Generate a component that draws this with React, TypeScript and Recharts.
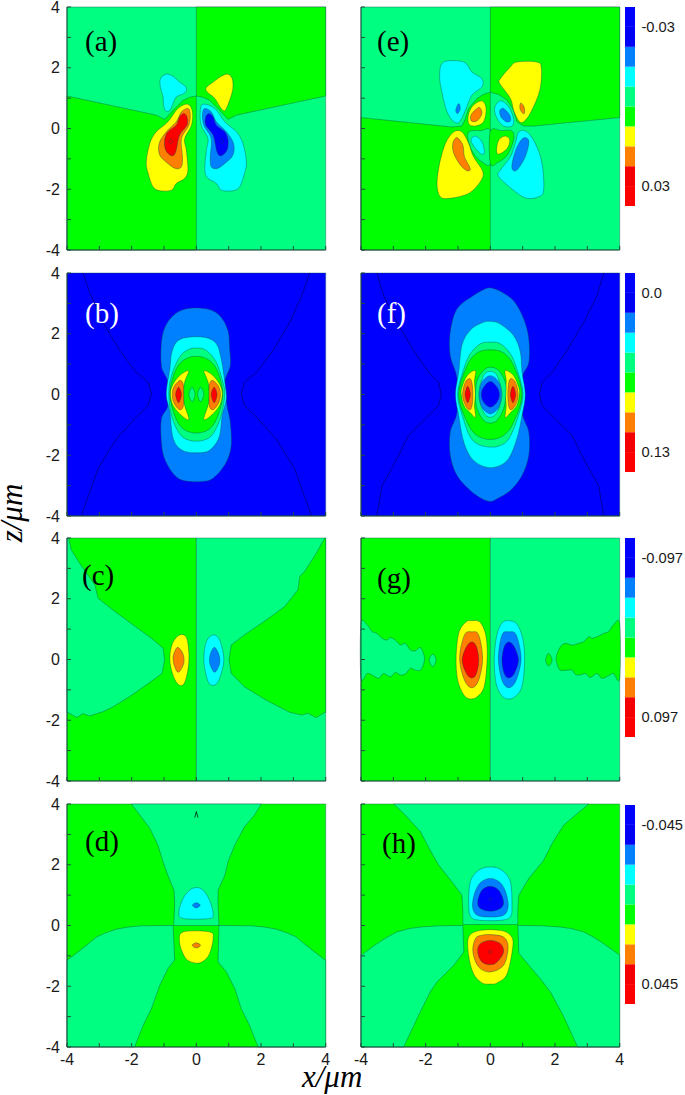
import { ScatterChart, Scatter, XAxis, YAxis, BarChart, Bar } from 'recharts';

type Pts = number[][];
type Contour = [number, Pts];

// level colours, 0 = most negative
const LEVEL_COLORS = ['#0000ff', '#0080ff', '#00ffff', '#00ff80', '#00ff00', '#ffff00', '#ff8000', '#ff0000'];

const TICKS = [-4, -3, -2, -1, 0, 1, 2, 3, 4];
const FULL: Pts = [[-4, 4], [4, 4], [4, -4], [-4, -4]];
const LEFT_HALF: Pts = [[-4, 4], [0, 4], [0, -4], [-4, -4]];
const RIGHT_HALF: Pts = [[0, 4], [4, 4], [4, -4], [0, -4]];

// (a)
const aRegions: Contour[] = [
  [3, FULL],
  [4, [[0, 4], [4, 4], [4, 1.07], [1.24, 0.44], [0.98, 0.3], [0.72, 0.6], [0.41, 0.93], [0.2, 1.03], [0, 1.07]]],
  [4, [[-4, 1.07], [-1.24, 0.44], [-0.98, 0.3], [-0.72, 0.6], [-0.41, 0.93], [-0.2, 1.03], [0, 1.07], [0, -4], [-4, -4]]],
];
const aBlobs: Contour[] = [
  [2, [[-0.93, 1.79], [-0.72, 1.72], [-0.52, 1.53], [-0.31, 1.35], [-0.36, 1.17], [-0.62, 1.04], [-0.72, 0.82], [-0.82, 0.6], [-0.93, 0.57], [-1.01, 0.73], [-1.03, 1.04], [-1.11, 1.35], [-1.11, 1.64]]],
  [5, [[0.98, 1.79], [1.11, 1.64], [1.13, 1.32], [1.05, 0.99], [0.93, 0.66], [0.85, 0.58], [0.72, 0.73], [0.57, 0.99], [0.33, 1.21], [0.31, 1.35], [0.52, 1.53], [0.77, 1.72]]],
  [5, [[-0.26, 0.8], [-0.12, 0.55], [-0.15, 0.11], [-0.36, -0.33], [-0.31, -0.71], [-0.26, -1.37], [-0.36, -1.64], [-0.62, -1.81], [-0.77, -2.03], [-1.13, -2.05], [-1.34, -1.92], [-1.49, -1.48], [-1.55, -1.1], [-1.44, -0.49], [-1.24, -0.11], [-0.88, 0.22], [-0.57, 0.66]]],
  [6, [[-0.26, 0.66], [-0.19, 0.49], [-0.23, 0.11], [-0.46, -0.33], [-0.43, -0.93], [-0.46, -1.26], [-0.64, -1.32], [-0.88, -1.15], [-1.13, -0.88], [-1.15, -0.49], [-0.93, -0.11], [-0.62, 0.22], [-0.46, 0.55]]],
  [7, [[-0.39, 0.49], [-0.29, 0.38], [-0.29, 0.11], [-0.52, -0.22], [-0.64, -0.77], [-0.77, -0.9], [-0.95, -0.71], [-0.98, -0.38], [-0.88, -0.11], [-0.62, 0.11], [-0.52, 0.38]]],
  [7, [[-0.79, -0.35], [-0.73, -0.42], [-0.79, -0.5], [-0.85, -0.42]]],
  [2, [[0.2, 0.8], [0.12, 0.55], [0.15, 0.11], [0.36, -0.33], [0.31, -0.71], [0.26, -1.37], [0.36, -1.64], [0.62, -1.81], [0.77, -2.03], [1.13, -2.05], [1.34, -1.92], [1.49, -1.48], [1.55, -1.1], [1.44, -0.49], [1.24, -0.11], [0.88, 0.22], [0.57, 0.66]]],
  [1, [[0.26, 0.66], [0.19, 0.49], [0.23, 0.11], [0.46, -0.33], [0.43, -0.93], [0.46, -1.26], [0.64, -1.32], [0.88, -1.15], [1.13, -0.88], [1.15, -0.49], [0.93, -0.11], [0.62, 0.22], [0.46, 0.55]]],
  [0, [[0.39, 0.49], [0.29, 0.38], [0.29, 0.11], [0.52, -0.22], [0.64, -0.77], [0.77, -0.9], [0.95, -0.71], [0.98, -0.38], [0.88, -0.11], [0.62, 0.11], [0.52, 0.38]]],
  [0, [[0.79, -0.35], [0.85, -0.42], [0.79, -0.5], [0.73, -0.42]]],
];

// (e)
const eRegions: Contour[] = [
  [3, FULL],
  [4, [[0, 4], [4, 4], [4, 0.36], [1.34, 0.08], [1.03, 0.08], [0.82, 0.22], [0.72, 0.6], [0.52, 0.93], [0.26, 1.12], [0, 1.19]]],
  [4, [[-4, 0.36], [-1.2, 0.05], [-0.88, 0.08], [-0.78, 0.3], [-0.67, 0.66], [-0.42, 0.98], [-0.2, 1.13], [0, 1.19], [0, -4], [-4, -4]]],
];
const eBlobs: Contour[] = [
  [3, [[-0.67, -0.11], [-0.3, -0.07], [0, -0.09], [0, -1.15], [-0.26, -1.1], [-0.52, -0.82], [-0.67, -0.44]]],
  [4, [[0, -0.09], [0.35, -0.07], [0.67, -0.08], [0.72, -0.38], [0.52, -0.88], [0.21, -1.13], [0, -1.15]]],
  [2, [[-1.44, 2.19], [-0.82, 2.19], [-0.57, 1.86], [-0.26, 1.64], [-0.26, 1.37], [-0.57, 1.1], [-0.77, 0.6], [-0.95, 0.22], [-1.13, 0.22], [-1.34, 0.55], [-1.49, 1.15], [-1.57, 1.75]]],
  [1, [[-0.98, 0.82], [-0.93, 0.66], [-1.01, 0.49], [-1.07, 0.6]]],
  [5, [[1.44, 2.19], [1.58, 1.97], [1.53, 1.26], [1.26, 0.55], [1.03, 0.22], [0.88, 0.25], [0.72, 0.6], [0.62, 0.99], [0.29, 1.48], [0.31, 1.64], [0.62, 2.03], [0.82, 2.19]]],
  [6, [[0.95, 0.84], [1.05, 0.69], [1.05, 0.49], [0.96, 0.55], [0.91, 0.71]]],
  [5, [[-0.26, 0.91], [-0.13, 0.66], [-0.21, 0.22], [-0.46, 0.08], [-0.67, 0.16], [-0.67, 0.49], [-0.52, 0.77]]],
  [6, [[-0.33, 0.69], [-0.26, 0.49], [-0.41, 0.25], [-0.59, 0.25], [-0.6, 0.44], [-0.46, 0.62]]],
  [2, [[0.31, 0.91], [0.57, 0.71], [0.72, 0.31], [0.67, 0.08], [0.41, 0.08], [0.21, 0.33], [0.13, 0.66]]],
  [1, [[0.41, 0.66], [0.6, 0.44], [0.62, 0.25], [0.49, 0.22], [0.33, 0.38], [0.29, 0.58]]],
  [2, [[-0.46, -0.25], [-0.26, -0.44], [-0.18, -0.77], [-0.26, -0.85], [-0.46, -0.66], [-0.6, -0.38]]],
  [5, [[0.46, -0.25], [0.6, -0.38], [0.52, -0.66], [0.26, -0.85], [0.19, -0.71], [0.26, -0.38]]],
  [5, [[-1.13, -0.11], [-0.88, -0.11], [-0.67, -0.49], [-0.52, -0.93], [-0.23, -1.42], [-0.31, -1.75], [-0.67, -2.14], [-1.24, -2.3], [-1.55, -2.25], [-1.65, -1.81], [-1.57, -1.15], [-1.39, -0.49]]],
  [6, [[-1.03, -0.3], [-0.85, -0.55], [-0.8, -0.93], [-0.62, -1.32], [-0.72, -1.39], [-0.93, -1.2], [-1.13, -0.82], [-1.16, -0.49]]],
  [2, [[0.88, -0.11], [1.13, -0.11], [1.39, -0.49], [1.6, -1.15], [1.65, -2.03], [1.49, -2.25], [1.13, -2.3], [0.77, -2.08], [0.26, -1.59], [0.31, -1.37], [0.62, -0.93], [0.77, -0.49]]],
  [1, [[1.06, -0.3], [1.19, -0.44], [1.08, -0.93], [0.82, -1.37], [0.67, -1.32], [0.72, -0.93], [0.88, -0.49]]],
];

// (b)
const bRegions: Contour[] = [[0, FULL]];
const bLines: Pts[] = [
  [[-3.5, 4], [-3.3, 3.36], [-2.89, 2.38], [-2.37, 1.45], [-1.86, 0.73], [-1.49, 0.41], [-1.39, 0.02], [-1.49, -0.36], [-1.91, -0.8], [-2.47, -1.46], [-3.04, -2.44], [-3.56, -4]],
  [[3.5, 4], [3.3, 3.36], [2.89, 2.38], [2.37, 1.45], [1.86, 0.73], [1.49, 0.41], [1.39, 0.02], [1.49, -0.36], [1.91, -0.8], [2.47, -1.46], [3.04, -2.44], [3.56, -4]],
];
const bBlobs: Contour[] = [
  [1, [[-0.31, 2.82], [0.31, 2.82], [0.72, 2.6], [0.98, 2.1], [1.03, 1.5], [1.05, 0.95], [0.88, 0.41], [0.95, -0.36], [1.05, -0.91], [1.08, -1.68], [0.93, -2.22], [0.62, -2.66], [0.31, -2.85], [-0.31, -2.85], [-0.67, -2.66], [-0.98, -2.12], [-1.08, -1.57], [-1.08, -0.8], [-0.88, -0.36], [-0.88, 0.41], [-1.08, 0.95], [-1.05, 1.94], [-0.77, 2.54]]],
  [2, [[-0.31, 1.88], [0.28, 1.88], [0.62, 1.67], [0.77, 1.17], [0.88, 0.41], [0.93, -0.14], [0.8, -0.69], [0.72, -1.35], [0.52, -1.73], [0.26, -1.9], [-0.26, -1.9], [-0.57, -1.73], [-0.74, -1.35], [-0.82, -0.58], [-0.93, 0.02], [-0.82, 0.84], [-0.77, 1.33], [-0.62, 1.72]]],
  [3, [[0, 1.53], [0.31, 1.45], [0.62, 1.06], [0.82, 0.41], [0.88, 0.02], [0.77, -0.69], [0.52, -1.29], [0.21, -1.51], [-0.21, -1.51], [-0.52, -1.29], [-0.77, -0.69], [-0.85, 0.02], [-0.77, 0.62], [-0.52, 1.23], [-0.26, 1.47]]],
  [4, [[0, 1.26], [0.41, 1.12], [0.67, 0.73], [0.82, 0.02], [0.67, -0.69], [0.41, -1.13], [0, -1.27], [-0.41, -1.13], [-0.67, -0.69], [-0.82, 0.02], [-0.67, 0.73], [-0.41, 1.12]]],
  [5, [[0.24, 0.78], [0.52, 0.62], [0.74, 0.3], [0.8, 0], [0.72, -0.36], [0.46, -0.69], [0.23, -0.82], [0.36, -0.36], [0.41, 0], [0.36, 0.41]]],
  [5, [[-0.24, 0.78], [-0.52, 0.62], [-0.74, 0.3], [-0.8, 0], [-0.72, -0.36], [-0.46, -0.69], [-0.23, -0.82], [-0.36, -0.36], [-0.41, 0], [-0.36, 0.41]]],
  [6, [[0.52, 0.46], [0.72, 0.19], [0.72, -0.2], [0.54, -0.49], [0.41, -0.41], [0.39, 0], [0.41, 0.35]]],
  [6, [[-0.52, 0.46], [-0.72, 0.19], [-0.72, -0.2], [-0.54, -0.49], [-0.41, -0.41], [-0.39, 0], [-0.41, 0.35]]],
  [7, [[0.55, 0.24], [0.64, 0], [0.55, -0.27], [0.46, 0]]],
  [7, [[-0.55, 0.24], [-0.46, 0], [-0.55, -0.27], [-0.64, 0]]],
  [3, [[-0.13, 0.24], [-0.04, 0], [-0.13, -0.24], [-0.23, 0]]],
  [3, [[0.13, 0.24], [0.23, 0], [0.13, -0.24], [0.04, 0]]],
];

// (f)
const fRegions: Contour[] = [[0, FULL]];
const fLines: Pts[] = [
  [[-3.51, 4], [-3.3, 3.25], [-2.89, 2.38], [-2.37, 1.45], [-1.91, 0.73], [-1.6, 0.41], [-1.52, 0], [-1.6, -0.36], [-2.01, -0.8], [-2.53, -1.35], [-2.94, -2.23], [-3.35, -3], [-3.51, -4]],
  [[3.51, 4], [3.3, 3.25], [2.89, 2.38], [2.37, 1.45], [1.91, 0.73], [1.6, 0.41], [1.52, 0], [1.6, -0.36], [2.01, -0.8], [2.53, -1.35], [2.94, -2.23], [3.35, -3], [3.51, -4]],
];
const fBlobs: Contour[] = [
  [1, [[0, 3.51], [0.26, 3.42], [0.72, 3.09], [1.03, 2.49], [1.19, 1.83], [1.19, 1.06], [0.98, 0.52], [0.98, -0.58], [1.19, -1.24], [1.19, -2], [0.98, -2.67], [0.62, -3.16], [0.21, -3.43], [0, -3.52], [-0.26, -3.43], [-0.62, -3.16], [-1.03, -2.67], [-1.24, -2], [-1.24, -1.24], [-1.03, -0.58], [-1.03, 0.52], [-1.24, 1.28], [-1.24, 2.05], [-1.03, 2.82], [-0.52, 3.26], [-0.21, 3.45]]],
  [2, [[0, 2.41], [0.31, 2.32], [0.72, 1.94], [0.93, 1.39], [0.98, 0.73], [1.08, 0], [0.98, -0.69], [0.82, -1.46], [0.52, -2.17], [0, -2.41], [-0.52, -2.17], [-0.82, -1.57], [-0.98, -0.69], [-1.08, 0], [-0.98, 0.73], [-0.88, 1.62], [-0.62, 2.12], [-0.26, 2.36]]],
  [3, [[0, 1.72], [0.31, 1.67], [0.62, 1.34], [0.82, 0.84], [1.01, 0], [0.82, -0.85], [0.57, -1.46], [0.31, -1.68], [0, -1.73], [-0.36, -1.65], [-0.62, -1.4], [-0.82, -0.85], [-1.01, 0], [-0.82, 0.84], [-0.62, 1.34], [-0.31, 1.67]]],
  [4, [[0, 1.47], [0.41, 1.37], [0.72, 0.95], [0.98, 0], [0.72, -0.91], [0.41, -1.35], [0, -1.48], [-0.41, -1.35], [-0.72, -0.91], [-0.98, 0], [-0.72, 0.95], [-0.41, 1.37]]],
  [5, [[0.46, 0.79], [0.72, 0.62], [0.88, 0.23], [0.9, 0], [0.82, -0.36], [0.62, -0.6], [0.46, -0.75], [0.49, -0.36], [0.46, 0], [0.49, 0.43]]],
  [5, [[-0.46, 0.79], [-0.72, 0.62], [-0.88, 0.23], [-0.9, 0], [-0.82, -0.36], [-0.62, -0.6], [-0.46, -0.75], [-0.49, -0.36], [-0.46, 0], [-0.49, 0.43]]],
  [6, [[0.62, 0.52], [0.77, 0.41], [0.86, 0], [0.77, -0.36], [0.62, -0.5], [0.55, -0.25], [0.55, 0.24]]],
  [6, [[-0.62, 0.52], [-0.77, 0.41], [-0.86, 0], [-0.77, -0.36], [-0.62, -0.5], [-0.55, -0.25], [-0.55, 0.24]]],
  [7, [[0.7, 0.27], [0.78, 0], [0.7, -0.27], [0.62, 0]]],
  [7, [[-0.7, 0.27], [-0.62, 0], [-0.7, -0.27], [-0.78, 0]]],
  [3, [[0, 0.9], [0.26, 0.79], [0.46, 0.41], [0.48, 0], [0.41, -0.47], [0.21, -0.85], [0, -0.94], [-0.21, -0.85], [-0.41, -0.47], [-0.46, 0], [-0.41, 0.46], [-0.21, 0.79]]],
  [2, [[0, 0.76], [0.21, 0.62], [0.36, 0], [0.21, -0.58], [0, -0.75], [-0.21, -0.58], [-0.36, 0], [-0.21, 0.62]]],
  [1, [[0, 0.62], [0.26, 0.41], [0.34, 0], [0.26, -0.42], [0, -0.64], [-0.26, -0.42], [-0.34, 0], [-0.26, 0.41]]],
  [0, [[0, 0.43], [0.21, 0.24], [0.28, 0], [0.21, -0.25], [0, -0.42], [-0.21, -0.25], [-0.28, 0], [-0.21, 0.24]]],
];

// (c)
const cRegions: Contour[] = [
  [4, LEFT_HALF],
  [3, RIGHT_HALF],
  [3, [[-3.95, 4], [-3.87, 3.61], [-3.61, 3.17], [-3.14, 2.46], [-3.04, 2.02], [-2.58, 1.63], [-1.96, 1.14], [-1.39, 0.7], [-1.03, 0.37], [-0.98, 0], [-1.06, -0.46], [-1.55, -0.84], [-2.06, -1.22], [-2.58, -1.56], [-2.89, -1.72], [-3.3, -1.86], [-3.51, -1.78], [-3.69, -1.91], [-3.97, -1.75], [-4, -1.75], [-4, 4]]],
  [4, [[3.97, 4], [3.71, 3.5], [3.35, 2.9], [3.2, 2.74], [3.14, 2.29], [2.94, 2.02], [2.73, 1.74], [2.16, 1.3], [1.49, 0.81], [1.08, 0.48], [1.01, 0], [1.08, -0.46], [1.49, -0.9], [2.16, -1.34], [2.89, -1.74], [3.25, -1.83], [3.45, -1.77], [3.71, -1.92], [3.97, -1.74], [4, -1.74], [4, 4]]],
];
const cBlobs: Contour[] = [
  [5, [[-0.52, 0.81], [-0.31, 0.73], [-0.23, 0.2], [-0.26, -0.35], [-0.39, -0.81], [-0.57, -0.81], [-0.74, -0.46], [-0.82, 0.04], [-0.74, 0.53]]],
  [6, [[-0.57, 0.4], [-0.41, 0.18], [-0.39, -0.13], [-0.55, -0.42], [-0.67, -0.24], [-0.72, 0.04], [-0.67, 0.26]]],
  [2, [[0.52, 0.81], [0.72, 0.64], [0.85, 0.04], [0.77, -0.46], [0.62, -0.81], [0.41, -0.81], [0.29, -0.46], [0.23, 0.04], [0.31, 0.59]]],
  [1, [[0.57, 0.4], [0.7, 0.15], [0.72, -0.13], [0.57, -0.42], [0.43, -0.18], [0.41, 0.04], [0.46, 0.26]]],
];

// (g)
const gRegions: Contour[] = [
  [4, LEFT_HALF],
  [3, RIGHT_HALF],
];
const gBlobs: Contour[] = [
  [3, [[-4, 1.16], [-3.81, 1.14], [-3.66, 0.92], [-3.51, 0.86], [-3.35, 0.7], [-3.2, 0.64], [-3.09, 0.72], [-2.94, 0.64], [-2.78, 0.48], [-2.63, 0.53], [-2.47, 0.31], [-2.32, 0.29], [-2.16, 0.39], [-2.04, 0.09], [-2.06, -0.13], [-2.16, -0.35], [-2.32, -0.35], [-2.47, -0.29], [-2.63, -0.48], [-2.78, -0.51], [-2.94, -0.43], [-3.09, -0.57], [-3.3, -0.46], [-3.45, -0.62], [-3.66, -0.51], [-3.81, -0.46], [-4, -0.6]]],
  [3, [[-1.78, 0.18], [-1.68, -0.02], [-1.78, -0.24], [-1.89, -0.02]]],
  [4, [[4, 1.16], [3.81, 1.14], [3.66, 0.92], [3.51, 0.86], [3.3, 0.75], [3.14, 0.7], [3.04, 0.75], [2.89, 0.59], [2.73, 0.53], [2.53, 0.47], [2.32, 0.53], [2.16, 0.41], [2.04, 0.09], [2.06, -0.13], [2.16, -0.35], [2.37, -0.35], [2.53, -0.35], [2.63, -0.49], [2.78, -0.51], [2.94, -0.46], [3.09, -0.59], [3.3, -0.46], [3.45, -0.62], [3.66, -0.53], [3.81, -0.46], [4, -0.62]]],
  [4, [[1.8, 0.2], [1.91, -0.02], [1.8, -0.21], [1.71, -0.02]]],
  [5, [[-0.57, 1.28], [-0.31, 1.22], [-0.13, 0.75], [-0.1, -0.02], [-0.19, -0.9], [-0.41, -1.23], [-0.62, -1.3], [-0.82, -1.17], [-1.01, -0.68], [-1.06, 0.04], [-0.98, 0.86], [-0.77, 1.22]]],
  [6, [[-0.57, 0.91], [-0.36, 0.81], [-0.24, 0.04], [-0.36, -0.68], [-0.57, -0.93], [-0.8, -0.68], [-0.95, 0.04], [-0.8, 0.81]]],
  [7, [[-0.57, 0.58], [-0.43, 0.42], [-0.36, -0.02], [-0.43, -0.46], [-0.57, -0.61], [-0.74, -0.46], [-0.87, -0.02], [-0.74, 0.42]]],
  [2, [[0.57, 1.28], [0.82, 1.17], [1, 0.7], [1.06, -0.02], [0.98, -0.88], [0.77, -1.22], [0.57, -1.3], [0.36, -1.2], [0.18, -0.8], [0.12, -0.02], [0.2, 0.8], [0.36, 1.2]]],
  [1, [[0.57, 0.91], [0.8, 0.81], [0.95, 0.04], [0.8, -0.68], [0.57, -0.93], [0.36, -0.68], [0.25, 0.04], [0.36, 0.81]]],
  [0, [[0.57, 0.58], [0.74, 0.42], [0.87, -0.02], [0.74, -0.46], [0.57, -0.61], [0.43, -0.46], [0.36, -0.02], [0.43, 0.42]]],
];

// (d)
const dRegions: Contour[] = [
  [4, FULL],
  [3, [[-2.01, 4], [-1.75, 3.64], [-1.44, 3.2], [-1.19, 2.65], [-1.03, 2.1], [-0.88, 1.65], [-0.69, 1.16], [-0.67, 0.67], [-0.7, 0], [0.7, 0], [0.67, 0.67], [0.67, 1.16], [0.88, 1.65], [0.98, 2.1], [1.19, 2.65], [1.49, 3.25], [1.8, 3.64], [2.01, 4]]],
  [3, [[-4, -1.15], [-3.6, -0.82], [-3.3, -0.57], [-3.09, -0.38], [-2.8, -0.24], [-2.47, -0.12], [-2.1, -0.05], [-1.7, -0.01], [-0.72, 0], [-0.67, -1.13], [-0.88, -1.42], [-1.13, -1.97], [-1.39, -2.74], [-1.65, -3.3], [-1.91, -4], [-4, -4]]],
  [3, [[0.7, 0], [1.7, -0.01], [2.1, -0.05], [2.47, -0.12], [2.8, -0.24], [3.09, -0.38], [3.3, -0.57], [3.6, -0.82], [4, -1.15], [4, -4], [1.91, -4], [1.65, -3.3], [1.39, -2.74], [1.19, -2.08], [0.93, -1.53], [0.67, -1.2]]],
];
const dLines: Pts[] = [[[-0.05, 3.55], [0, 3.75], [0.05, 3.55]]];
const dBlobs: Contour[] = [
  [2, [[0, 1.25], [0.21, 1.16], [0.41, 0.83], [0.52, 0.39], [0.41, 0.23], [-0.41, 0.23], [-0.54, 0.45], [-0.41, 0.89], [-0.21, 1.16]]],
  [1, [[0, 0.75], [0.12, 0.67], [0, 0.58], [-0.12, 0.67]]],
  [5, [[-0.41, -0.21], [0.41, -0.21], [0.52, -0.43], [0.41, -0.93], [0.21, -1.18], [0, -1.24], [-0.26, -1.15], [-0.41, -0.93], [-0.52, -0.54]]],
  [6, [[0, -0.57], [0.13, -0.65], [0, -0.74], [-0.13, -0.65]]],
];

// (h)
const hRegions: Contour[] = [
  [4, FULL],
  [3, [[-2.99, 4], [-2.68, 3.69], [-2.16, 3.09], [-1.86, 2.48], [-1.6, 1.99], [-1.19, 1.44], [-0.88, 1], [-0.85, 0.5], [-0.85, 0.03], [0.85, 0.03], [0.85, 0.5], [0.88, 1], [1.19, 1.55], [1.65, 2.15], [1.91, 2.7], [2.27, 3.31], [3.04, 4]]],
  [3, [[-4, -0.98], [-3.51, -0.6], [-3.2, -0.39], [-2.89, -0.21], [-2.5, -0.1], [-2.16, -0.05], [-1.6, -0.01], [-0.85, 0], [-0.82, -0.87], [-1.13, -1.31], [-1.65, -1.86], [-1.86, -2.19], [-2.22, -2.96], [-2.68, -4], [-4, -4]]],
  [3, [[0.85, 0], [1.6, -0.01], [2.16, -0.05], [2.5, -0.1], [2.89, -0.21], [3.2, -0.39], [3.51, -0.6], [4, -0.98], [4, -4], [2.7, -4], [2.27, -3], [1.86, -2.19], [1.55, -1.76], [1.19, -1.31], [0.88, -0.91]]],
];
const hBlobs: Contour[] = [
  [2, [[0, 1.93], [0.36, 1.82], [0.62, 1.44], [0.67, 0.67], [0.62, 0.28], [0.31, 0.17], [-0.31, 0.17], [-0.6, 0.28], [-0.67, 0.67], [-0.62, 1.44], [-0.36, 1.82]]],
  [1, [[0, 1.55], [0.31, 1.41], [0.49, 1.05], [0.55, 0.61], [0.41, 0.34], [0, 0.28], [-0.41, 0.34], [-0.55, 0.61], [-0.49, 1.05], [-0.31, 1.41]]],
  [0, [[0, 1.29], [0.26, 1.16], [0.41, 0.78], [0.31, 0.56], [0, 0.47], [-0.31, 0.56], [-0.39, 0.78], [-0.26, 1.16]]],
  [0, [[0, 0.92], [0.05, 0.87], [0, 0.82], [-0.05, 0.87]]],
  [5, [[-0.31, -0.16], [0.31, -0.16], [0.62, -0.32], [0.7, -0.65], [0.52, -1.59], [0.21, -1.89], [0, -1.93], [-0.26, -1.89], [-0.52, -1.59], [-0.67, -1], [-0.67, -0.38]]],
  [6, [[0, -0.3], [0.41, -0.38], [0.55, -0.71], [0.41, -1.31], [0, -1.53], [-0.36, -1.37], [-0.54, -0.87], [-0.46, -0.43], [-0.26, -0.32]]],
  [7, [[0, -0.49], [0.31, -0.6], [0.41, -0.87], [0.21, -1.2], [0, -1.29], [-0.26, -1.2], [-0.39, -0.87], [-0.31, -0.6]]],
  [7, [[0, -0.8], [0.05, -0.87], [0, -0.93], [-0.05, -0.87]]],
];

// colour bar tick labels, [top, bottom]
const eBarLabels = ['-0.03', '0.03'];
const fBarLabels = ['0.0', '0.13'];
const gBarLabels = ['-0.097', '0.097'];
const hBarLabels = ['-0.045', '0.045'];
const BAR_BANDS = [{ b0: 1, b1: 1, b2: 1, b3: 1, b4: 1, b5: 1, b6: 1, b7: 1, b8: 1, b9: 1 }];
const BAR_COLORS = ['#ff0000', '#f40000', '#ff8000', '#ffff00', '#00ff00', '#00ff80', '#00ffff', '#0080ff', '#0000f4', '#0000ff'];

const CONTOUR_STROKE = 'rgba(0,70,70,0.55)';
const PLOT_W = 258.7;
const PLOT_H = 243;
const TICK_FONT = { fontFamily: '"Liberation Sans", Arial, sans-serif', fontSize: 16, fill: '#1a1a1a' };

const toRows = (pts: Pts) => pts.map(([x, z]) => ({ x, z }));
const noDot = () => null;

const straightPath = (p: { x: number; y: number }[]) =>
  p.map((q, i) => `${i ? 'L' : 'M'}${q.x},${q.y}`).join('') + 'Z';

// closed catmull-rom through the read contour points
const smoothPath = (p: { x: number; y: number }[]) => {
  const n = p.length;
  let d = `M${p[0].x},${p[0].y}`;
  for (let i = 0; i < n; i++) {
    const a = p[(i - 1 + n) % n];
    const b = p[i];
    const c = p[(i + 1) % n];
    const e = p[(i + 2) % n];
    d += `C${b.x + (c.x - a.x) / 6},${b.y + (c.y - a.y) / 6} ${c.x - (e.x - b.x) / 6},${c.y - (e.y - b.y) / 6} ${c.x},${c.y}`;
  }
  return d + 'Z';
};

const openPath = (p: { x: number; y: number }[]) =>
  p.map((q, i) => `${i ? 'L' : 'M'}${q.x},${q.y}`).join('');

interface PanelProps {
  left: number;
  top: number;
  regions: Contour[];
  blobs: Contour[];
  lines?: Pts[];
  lineColor?: string;
  yLabels?: boolean;
  xLabels?: boolean;
}

const evenOnly = (v: number) => (v % 2 === 0 ? String(v) : '');
const blank = () => '';

const Panel = ({ left, top, regions, blobs, lines = [], lineColor = '#000', yLabels, xLabels }: PanelProps) => {
  const pad = 50;
  const tickSize = -4;
  return (
    <div style={{ position: 'absolute', left: left - pad, top: top - 8 }}>
      <ScatterChart
        width={PLOT_W + pad + 8}
        height={PLOT_H + 8 + 30}
        margin={{ top: 8, right: 8, left: 0, bottom: 0 }}
      >
        <XAxis
          dataKey="x"
          type="number"
          domain={[-4, 4]}
          ticks={TICKS}
          interval={0}
          height={30}
          tickSize={tickSize}
          tickMargin={11}
          tickFormatter={xLabels ? evenOnly : blank}
          tick={TICK_FONT}
          stroke="#1f4f3a"
          zIndex={700}
        />
        <YAxis
          dataKey="z"
          type="number"
          domain={[-4, 4]}
          ticks={TICKS}
          interval={0}
          width={pad}
          tickSize={tickSize}
          tickMargin={11}
          tickFormatter={yLabels ? evenOnly : blank}
          tick={TICK_FONT}
          stroke="#1f4f3a"
          zIndex={700}
        />
        <XAxis
          xAxisId="top"
          orientation="top"
          type="number"
          domain={[-4, 4]}
          ticks={TICKS}
          interval={0}
          height={0}
          tickSize={tickSize}
          tickFormatter={blank}
          stroke="#7a8a85"
          zIndex={700}
        />
        <YAxis
          yAxisId="right"
          orientation="right"
          type="number"
          domain={[-4, 4]}
          ticks={TICKS}
          interval={0}
          width={0}
          tickSize={tickSize}
          tickFormatter={blank}
          stroke="#7a8a85"
          zIndex={700}
        />
        {regions.map(([level, pts], i) => (
          <Scatter
            key={`region-${i}`}
            data={toRows(pts)}
            dataKey="z"
            isAnimationActive={false}
            shape={noDot}
            line={(p: any) => <path d={straightPath(p.points)} fill={LEVEL_COLORS[level]} stroke={CONTOUR_STROKE} strokeWidth={0.7} />}
          />
        ))}
        {lines.map((pts, i) => (
          <Scatter
            key={`line-${i}`}
            data={toRows(pts)}
            dataKey="z"
            isAnimationActive={false}
            shape={noDot}
            line={(p: any) => <path d={openPath(p.points)} fill="none" stroke={lineColor} strokeWidth={0.7} />}
          />
        ))}
        {blobs.map(([level, pts], i) => (
          <Scatter
            key={`blob-${i}`}
            data={toRows(pts)}
            dataKey="z"
            isAnimationActive={false}
            shape={noDot}
            line={(p: any) => <path d={smoothPath(p.points)} fill={LEVEL_COLORS[level]} stroke={CONTOUR_STROKE} strokeWidth={0.7} />}
          />
        ))}
      </ScatterChart>
    </div>
  );
};

const ColorBar = ({ top, labels }: { top: number; labels: string[] }) => (
  <div style={{ position: 'absolute', left: 625.3, top: top - 8 }}>
    <BarChart
      width={59.7}
      height={215}
      data={BAR_BANDS}
      barCategoryGap={0}
      margin={{ top: 8, right: 0, bottom: 8, left: 0 }}
    >
      <XAxis hide type="category" />
      <YAxis
        orientation="right"
        type="number"
        domain={[0, 10]}
        ticks={[1, 9]}
        width={49.3}
        axisLine={false}
        tickLine={false}
        tickSize={0}
        tickMargin={6}
        tickFormatter={(v: number) => (v === 9 ? labels[0] : labels[1])}
        tick={{ ...TICK_FONT, fontSize: 14.7 }}
      />
      {BAR_COLORS.map((c, i) => (
        <Bar key={c} dataKey={`b${i}`} stackId="band" fill={c} isAnimationActive={false} />
      ))}
    </BarChart>
  </div>
);

const tag = (text: string, left: number, top: number, color = '#000') => (
  <div
    style={{
      position: 'absolute',
      left,
      top,
      fontFamily: '"Liberation Serif", serif',
      fontSize: 29,
      lineHeight: '32px',
      color,
    }}
  >
    {text}
  </div>
);

const LEFT_X = 67.3;
const RIGHT_X = 360.7;
const ROW_Y = [7, 272.5, 538, 804];

const App = () => (
  <div style={{ position: 'absolute', left: 0, top: 0, width: 685, height: 1095, background: '#fff', overflow: 'hidden' }}>
    <Panel left={LEFT_X} top={ROW_Y[0]} regions={aRegions} blobs={aBlobs} yLabels />
    <Panel left={LEFT_X} top={ROW_Y[1]} regions={bRegions} blobs={bBlobs} lines={bLines} lineColor="#00006e" yLabels />
    <Panel left={LEFT_X} top={ROW_Y[2]} regions={cRegions} blobs={cBlobs} yLabels />
    <Panel left={LEFT_X} top={ROW_Y[3]} regions={dRegions} blobs={dBlobs} lines={dLines} yLabels xLabels />
    <Panel left={RIGHT_X} top={ROW_Y[0]} regions={eRegions} blobs={eBlobs} />
    <Panel left={RIGHT_X} top={ROW_Y[1]} regions={fRegions} blobs={fBlobs} lines={fLines} lineColor="#00006e" />
    <Panel left={RIGHT_X} top={ROW_Y[2]} regions={gRegions} blobs={gBlobs} />
    <Panel left={RIGHT_X} top={ROW_Y[3]} regions={hRegions} blobs={hBlobs} xLabels />

    <ColorBar top={7.3} labels={eBarLabels} />
    <ColorBar top={273.3} labels={fBarLabels} />
    <ColorBar top={538.3} labels={gBarLabels} />
    <ColorBar top={805} labels={hBarLabels} />

    {tag('(a)', 85, 25)}
    {tag('(e)', 377, 25)}
    {tag('(b)', 85, 297, '#fff')}
    {tag('(f)', 377, 297, '#fff')}
    {tag('(c)', 82, 559)}
    {tag('(g)', 377, 562)}
    {tag('(d)', 85, 825)}
    {tag('(h)', 382, 827)}

    <div
      style={{
        position: 'absolute',
        left: 11.5,
        top: 512.5,
        transform: 'translate(-50%, -50%) rotate(-90deg)',
        fontFamily: '"Liberation Serif", serif',
        fontStyle: 'italic',
        fontSize: 31,
        lineHeight: '14px',
        whiteSpace: 'nowrap',
      }}
    >
      z/μm
    </div>
    <div
      style={{
        position: 'absolute',
        left: 302,
        top: 1069.5,
        fontFamily: '"Liberation Serif", serif',
        fontStyle: 'italic',
        fontSize: 31,
        lineHeight: '14px',
        whiteSpace: 'nowrap',
      }}
    >
      x/μm
    </div>
  </div>
);

export default App;
